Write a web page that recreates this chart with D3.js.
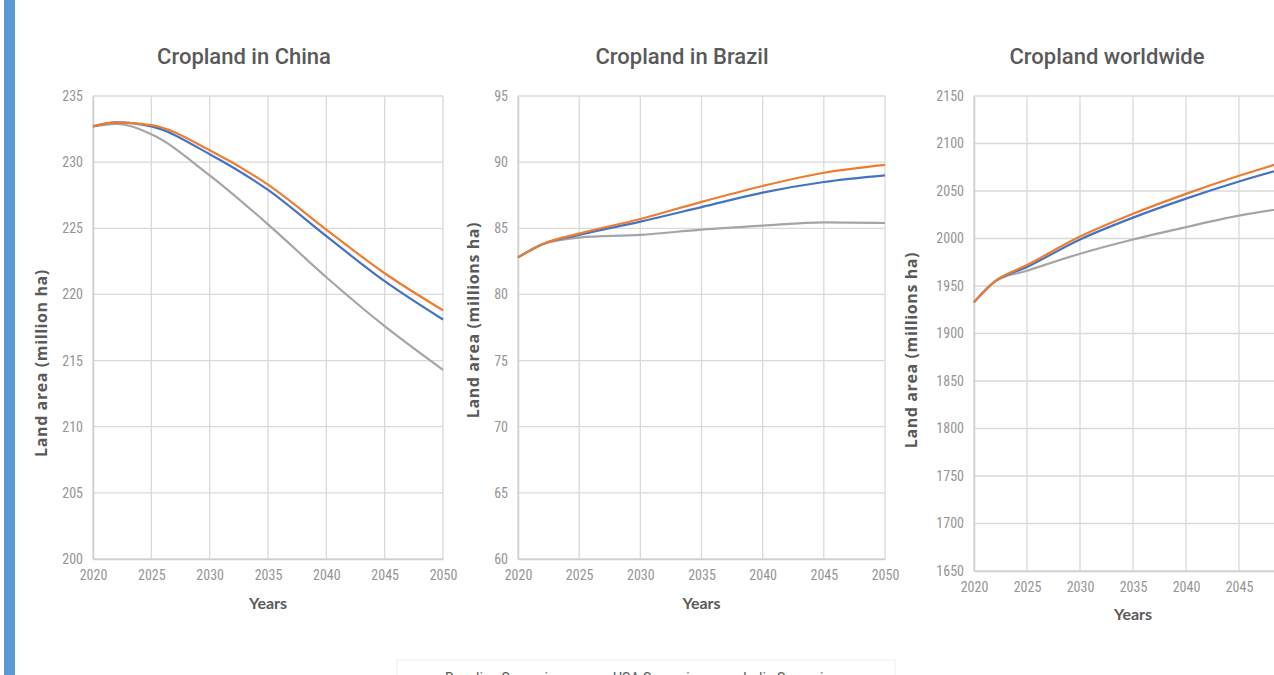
<!DOCTYPE html>
<html>
<head>
<meta charset="utf-8">
<script src="https://cdn.jsdelivr.net/npm/d3@7"></script>
<style>
  body { margin: 0; background: #fff; overflow: hidden; }
  .tick text { font-family: "Liberation Sans Narrow", "Roboto Condensed", "Liberation Sans", sans-serif; fill: #959595; }
</style>
</head>
<body>
<div id="chart"></div>
<script>
// years
var years = [2020, 2022, 2025, 2030, 2035, 2040, 2045, 2050];
var seriesNames = ["Baseline Scenario", "USA Scenario", "India Scenario"];
var colors = ["#4472c4", "#ed7d31", "#a5a5a5"];

// China (million ha)
var chinaBaseline = [232.7, 233.0, 232.7, 230.6, 227.9, 224.4, 221.0, 218.1];
var chinaUSA      = [232.7, 233.0, 232.8, 230.9, 228.3, 224.9, 221.6, 218.8];
var chinaIndia    = [232.7, 232.9, 232.1, 229.0, 225.3, 221.3, 217.6, 214.3];

// Brazil (millions ha)
var brazilBaseline = [82.8, 83.8, 84.5, 85.5, 86.6, 87.7, 88.5, 89.0];
var brazilUSA      = [82.8, 83.8, 84.6, 85.7, 87.0, 88.2, 89.2, 89.8];
var brazilIndia    = [82.8, 83.8, 84.3, 84.5, 84.9, 85.2, 85.45, 85.4];

// World (millions ha)
var worldBaseline = [1933, 1955, 1970, 1999, 2022, 2042, 2060, 2076];
var worldUSA      = [1933, 1955, 1972, 2002, 2026, 2047, 2066, 2083];
var worldIndia    = [1933, 1955, 1966, 1984, 1999, 2012, 2024, 2033];

var yearTicks = [2020, 2025, 2030, 2035, 2040, 2045, 2050];

var svgWidth = 1274;
var svgHeight = 675;

var svg = d3.select("#chart")
  .append("svg")
  .attr("width", svgWidth)
  .attr("height", svgHeight);

// blue bar at the left edge
svg.append("rect")
  .attr("x", 4).attr("y", 0)
  .attr("width", 11).attr("height", svgHeight)
  .attr("fill", "#5b9bd5");

var panels = [
  { title: "Cropland in China", ylabel: "Land area (million ha)",
    left: 93, right: 443, top: 96, bottom: 559,
    ydom: [200, 235], ystep: 5, xlabels: yearTicks,
    series: [chinaBaseline, chinaUSA, chinaIndia],
    titleX: 244, ylabelX: 41, ylabelY: 363, yearsY: 609 },
  { title: "Cropland in Brazil", ylabel: "Land area (millions ha)",
    left: 518, right: 885, top: 96, bottom: 559,
    ydom: [60, 95], ystep: 5, xlabels: yearTicks,
    series: [brazilBaseline, brazilUSA, brazilIndia],
    titleX: 682, ylabelX: 473, ylabelY: 320, yearsY: 609 },
  { title: "Cropland worldwide", ylabel: "Land area (millions ha)",
    left: 974, right: 1292, top: 96, bottom: 571,
    ydom: [1650, 2150], ystep: 50, xlabels: yearTicks.slice(0, 6),
    series: [worldBaseline, worldUSA, worldIndia],
    titleX: 1107, ylabelX: 911, ylabelY: 350, yearsY: 620 }
];

panels.forEach(function(p) {
  var g = svg.append("g");

  var x = d3.scaleLinear()
    .domain([2020, 2050])
    .range([p.left, p.right]);

  var y = d3.scaleLinear()
    .domain(p.ydom)
    .range([p.bottom, p.top]);

  var yTicks = d3.range(p.ydom[0], p.ydom[1] + 0.001, p.ystep);

  // grid
  g.append("g")
    .selectAll("line")
    .data(yTicks)
    .enter()
    .append("line")
    .attr("x1", p.left).attr("x2", p.right)
    .attr("y1", function(d) { return y(d); })
    .attr("y2", function(d) { return y(d); })
    .attr("stroke", "#d9d9d9")
    .attr("stroke-width", 1.3);

  g.append("g")
    .selectAll("line")
    .data(yearTicks)
    .enter()
    .append("line")
    .attr("x1", function(d) { return x(d); })
    .attr("x2", function(d) { return x(d); })
    .attr("y1", p.top).attr("y2", p.bottom)
    .attr("stroke", "#d9d9d9")
    .attr("stroke-width", 1.3);

  // axes, labels only
  var xAxis = g.append("g")
    .attr("transform", "translate(0," + p.bottom + ")")
    .call(d3.axisBottom(x).tickValues(p.xlabels).tickFormat(d3.format("d")).tickSize(0));
  xAxis.select(".domain").attr("stroke", "#cfcfcf").attr("stroke-width", 1.5);
  xAxis.selectAll("text").attr("font-size", 14).attr("y", 11);

  var yAxis = g.append("g")
    .attr("transform", "translate(" + p.left + ",0)")
    .call(d3.axisLeft(y).tickValues(yTicks).tickFormat(d3.format("d")).tickSize(0));
  yAxis.select(".domain").attr("stroke", "#cfcfcf").attr("stroke-width", 1.5);
  yAxis.selectAll("text").attr("font-size", 14).attr("x", -10);

  // lines
  var line = d3.line()
    .x(function(d, i) { return x(years[i]); })
    .y(function(d) { return y(d); })
    .curve(d3.curveMonotoneX);

  [2, 0, 1].forEach(function(k) {
    g.append("path")
      .datum(p.series[k])
      .attr("d", line)
      .attr("fill", "none")
      .attr("stroke", colors[k])
      .attr("stroke-width", 2.2);
  });

  // titles
  svg.append("text")
    .attr("x", p.titleX).attr("y", 64)
    .attr("text-anchor", "middle")
    .attr("font-family", "Roboto, 'Noto Sans', sans-serif")
    .attr("font-weight", 500)
    .attr("font-size", 22)
    .attr("fill", "#595959")
    .text(p.title);

  svg.append("text")
    .attr("x", (p.left + Math.min(p.right, 1292)) / 2)
    .attr("y", p.yearsY)
    .attr("text-anchor", "middle")
    .attr("font-family", "Lato, 'Noto Sans', sans-serif")
    .attr("font-weight", 700)
    .attr("font-size", 16)
    .attr("fill", "#595959")
    .text("Years");

  svg.append("text")
    .attr("transform", "translate(" + p.ylabelX + "," + p.ylabelY + ") rotate(-90)")
    .attr("text-anchor", "middle")
    .attr("dy", "0.35em")
    .attr("font-family", "'Open Sans', 'Noto Sans', sans-serif")
    .attr("font-weight", 700)
    .attr("font-size", 16)
    .attr("letter-spacing", 0.6)
    .attr("fill", "#595959")
    .text(p.ylabel);
});

// legend (cut off by the bottom edge)
svg.append("rect")
  .attr("x", 397).attr("y", 660)
  .attr("width", 498).attr("height", 40)
  .attr("fill", "#fff")
  .attr("stroke", "#eeeeee");

var legendX = [445, 613, 743];
seriesNames.forEach(function(name, i) {
  svg.append("line")
    .attr("x1", legendX[i] - 32).attr("x2", legendX[i] - 6)
    .attr("y1", 679).attr("y2", 679)
    .attr("stroke", colors[i])
    .attr("stroke-width", 2.2);
  svg.append("text")
    .attr("x", legendX[i]).attr("y", 683)
    .attr("font-family", "Roboto, 'Noto Sans', sans-serif")
    .attr("font-size", 14)
    .attr("fill", "#595959")
    .text(name);
});
</script>
</body>
</html>
